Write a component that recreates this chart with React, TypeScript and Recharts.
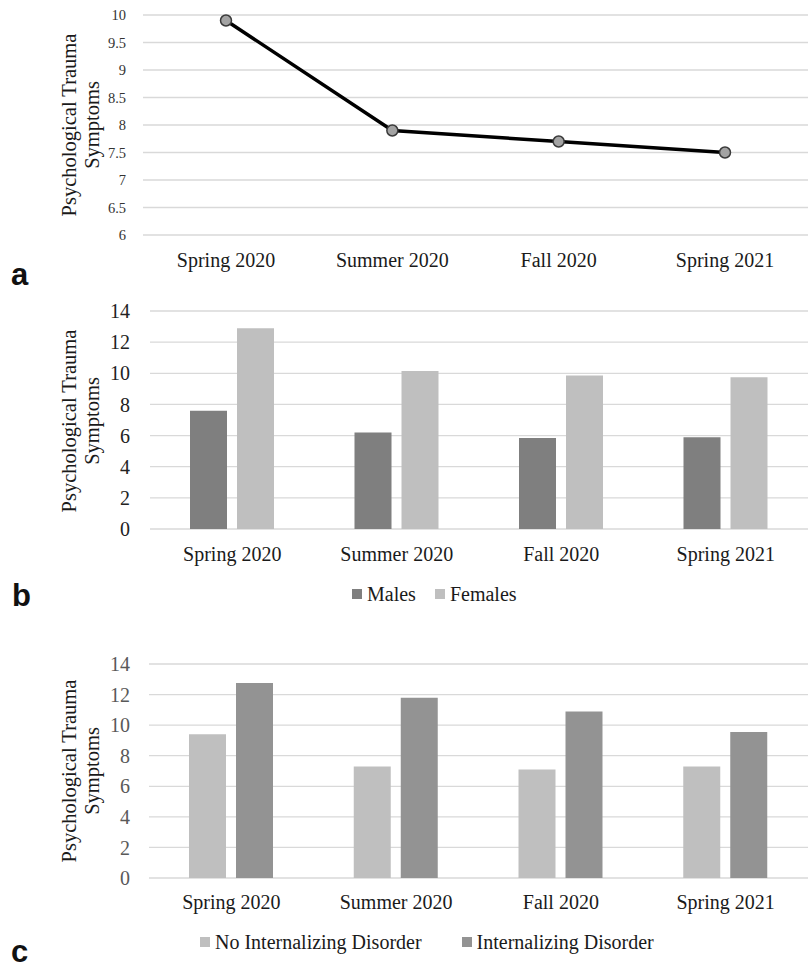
import React from 'react';
import {
  LineChart, Line, BarChart, Bar, XAxis, YAxis, CartesianGrid, Legend,
} from 'recharts';

const periods = ['Spring 2020', 'Summer 2020', 'Fall 2020', 'Spring 2021'];
const overallSymptoms = [9.9, 7.9, 7.7, 7.5];
const malesSymptoms = [7.6, 6.2, 5.85, 5.9];
const femalesSymptoms = [12.9, 10.15, 9.85, 9.75];
const noInternalizing = [9.4, 7.3, 7.1, 7.3];
const internalizing = [12.75, 11.8, 10.9, 9.55];
const ticksA = [6, 6.5, 7, 7.5, 8, 8.5, 9, 9.5, 10];
const ticksBC = [0, 2, 4, 6, 8, 10, 12, 14];

const dataA = periods.map((p, i) => ({ period: p, overall: overallSymptoms[i] }));
const dataB = periods.map((p, i) => ({ period: p, males: malesSymptoms[i], females: femalesSymptoms[i] }));
const dataC = periods.map((p, i) => ({ period: p, noInt: noInternalizing[i], int: internalizing[i] }));

const SERIF = '"Liberation Serif", "Times New Roman", serif';
const SANS = '"Liberation Sans", Arial, sans-serif';
const GRID = '#d9d9d9';
const CAT_COLOR = '#1a1a1a';

const YLabel = ({ cx, cy }: { cx: number; cy: number }) => (
  <div
    style={{
      position: 'absolute', left: cx - 130, top: cy - 24, width: 260, height: 48,
      transform: 'rotate(-90deg)', textAlign: 'center', fontFamily: SERIF,
      fontSize: 20.5, lineHeight: '23px', color: '#1a1a1a', whiteSpace: 'nowrap',
    }}
  >
    Psychological Trauma<br />Symptoms
  </div>
);

const PanelLetter = ({ letter, x, baseline }: { letter: string; x: number; baseline: number }) => (
  <div
    style={{
      position: 'absolute', left: x, top: baseline - 26, fontFamily: SANS, fontWeight: 'bold',
      fontSize: 31, lineHeight: '30px', color: '#111',
    }}
  >
    {letter}
  </div>
);

type Item = { label: string; color: string; gapAfter: number };
const makeLegend = (items: Item[], left: number) => () => (
  <div style={{ display: 'flex', alignItems: 'center', paddingLeft: left, fontFamily: SERIF, fontSize: 20, color: '#1a1a1a', height: 24 }}>
    {items.map((it) => (
      <div key={it.label} style={{ display: 'flex', alignItems: 'center', marginRight: it.gapAfter }}>
        <div style={{ width: 10, height: 10, background: it.color, marginRight: 5 }} />
        <span>{it.label}</span>
      </div>
    ))}
  </div>
);

export default function App() {
  return (
    <div style={{ position: 'absolute', left: 0, top: 0, width: 808, height: 969, background: '#fff', overflow: 'hidden' }}>
      {/* Panel a */}
      <div style={{ position: 'absolute', left: 0, top: 0 }}>
        <LineChart width={808} height={290} data={dataA} margin={{ top: 15, right: 0, left: 0, bottom: 0 }}>
          <CartesianGrid vertical={false} stroke={GRID} strokeWidth={1.3} />
          <XAxis
            dataKey="period" axisLine={false} tickLine={false} tickSize={0} tickMargin={18} height={55}
            padding={{ left: 83, right: 83 }}
            tick={{ fontFamily: SERIF, fontSize: 20, fill: CAT_COLOR }} interval={0}
          />
          <YAxis
            domain={[6, 10]} ticks={ticksA} width={143} axisLine={false} tickLine={false} tickSize={0} tickMargin={17}
            tick={{ fontFamily: SERIF, fontSize: 14.5, fill: '#333' }} interval={0}
          />
          <Line
            dataKey="overall" stroke="#000" strokeWidth={3.5} isAnimationActive={false}
            dot={{ r: 5.5, fill: '#a3a3a3', stroke: '#3a3a3a', strokeWidth: 1.5 }}
          />
        </LineChart>
      </div>
      <YLabel cx={82} cy={125} />
      <PanelLetter letter="a" x={11} baseline={286} />

      {/* Panel b */}
      <div style={{ position: 'absolute', left: 0, top: 290 }}>
        <BarChart width={808} height={330} data={dataB} margin={{ top: 21, right: 0, left: 0, bottom: 0 }} barSize={37} barGap={10}>
          <CartesianGrid vertical={false} stroke={GRID} strokeWidth={1.3} />
          <XAxis
            dataKey="period" axisLine={false} tickLine={false} tickSize={0} tickMargin={18} height={67}
            tick={{ fontFamily: SERIF, fontSize: 20, fill: CAT_COLOR }} interval={0}
          />
          <YAxis
            domain={[0, 14]} ticks={ticksBC} width={150} axisLine={false} tickLine={false} tickSize={0} tickMargin={20}
            tick={{ fontFamily: SERIF, fontSize: 20, fill: '#222' }} interval={0}
          />
          <Legend
            verticalAlign="bottom"
            wrapperStyle={{ position: 'absolute', left: 0, top: 292, width: 808 }}
            content={makeLegend([
              { label: 'Males', color: '#7f7f7f', gapAfter: 19 },
              { label: 'Females', color: '#bfbfbf', gapAfter: 0 },
            ], 352)}
          />
          <Bar dataKey="males" name="Males" fill="#7f7f7f" isAnimationActive={false} />
          <Bar dataKey="females" name="Females" fill="#bfbfbf" isAnimationActive={false} />
        </BarChart>
      </div>
      <YLabel cx={82} cy={421} />
      <PanelLetter letter="b" x={12} baseline={607} />

      {/* Panel c */}
      <div style={{ position: 'absolute', left: 0, top: 640 }}>
        <BarChart width={808} height={329} data={dataC} margin={{ top: 24, right: 0, left: 0, bottom: 0 }} barSize={37} barGap={10}>
          <CartesianGrid vertical={false} stroke={GRID} strokeWidth={1.3} />
          <XAxis
            dataKey="period" axisLine={false} tickLine={false} tickSize={0} tickMargin={17} height={67}
            tick={{ fontFamily: SERIF, fontSize: 20, fill: CAT_COLOR }} interval={0}
          />
          <YAxis
            domain={[0, 14]} ticks={ticksBC} width={149} axisLine={false} tickLine={false} tickSize={0} tickMargin={19}
            tick={{ fontFamily: SERIF, fontSize: 20, fill: '#595959' }} interval={0}
          />
          <Legend
            verticalAlign="bottom"
            wrapperStyle={{ position: 'absolute', left: 0, top: 290, width: 808 }}
            content={makeLegend([
              { label: 'No Internalizing Disorder', color: '#bfbfbf', gapAfter: 40 },
              { label: 'Internalizing Disorder', color: '#939393', gapAfter: 0 },
            ], 200)}
          />
          <Bar dataKey="noInt" name="No Internalizing Disorder" fill="#bfbfbf" isAnimationActive={false} />
          <Bar dataKey="int" name="Internalizing Disorder" fill="#939393" isAnimationActive={false} />
        </BarChart>
      </div>
      <YLabel cx={82} cy={771} />
      <PanelLetter letter="c" x={11} baseline={963} />
    </div>
  );
}
